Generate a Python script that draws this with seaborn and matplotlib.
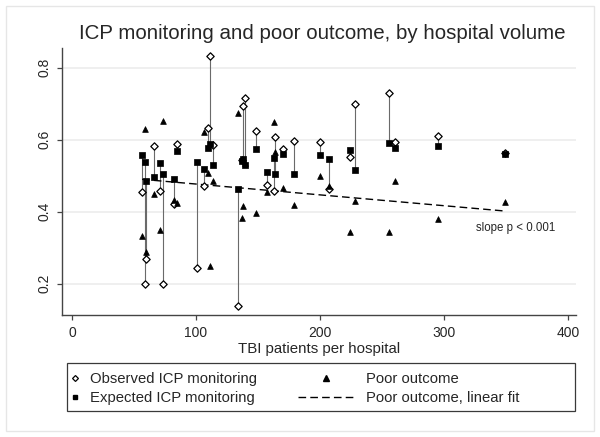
import numpy as np
import pandas as pd
import matplotlib
matplotlib.use("Agg")
import matplotlib.pyplot as plt
from matplotlib.patches import Rectangle
from matplotlib.lines import Line2D
import seaborn as sns

# ---- Data ----

# TBI patients per hospital
volume = [56.5, 58.9, 59.3, 66.4, 71.3, 73.6, 82.5, 84.6, 101.2, 106.8,
          110.0, 111.3, 113.4, 133.6, 137.3, 138.2, 139.5, 148.3, 157.1, 163.0,
          164.1, 170.2, 179.0, 200.0, 207.3, 224.2, 228.2, 255.4, 260.2, 294.9,
          349.0]
observed_icp = [0.455, 0.200, 0.269, 0.583, 0.457, 0.200, 0.422, 0.589, 0.243, 0.472,
                0.634, 0.833, 0.586, 0.139, 0.543, 0.693, 0.716, 0.625, 0.474, 0.457,
                0.608, 0.575, 0.596, 0.593, 0.462, 0.551, 0.699, 0.729, 0.594, 0.610,
                0.563]
expected_icp = [0.557, 0.537, 0.484, 0.496, 0.534, 0.504, 0.492, 0.568, 0.539, 0.518,
                0.576, 0.589, 0.531, 0.463, 0.540, 0.546, 0.529, 0.573, 0.510, 0.548,
                0.506, 0.561, 0.505, 0.557, 0.546, 0.571, 0.517, 0.590, 0.576, 0.584,
                0.559]
poor_outcome = [0.332, 0.630, 0.287, 0.449, 0.348, 0.651, 0.433, 0.425, np.nan, 0.622,
                0.507, 0.250, 0.484, 0.675, 0.383, 0.416, 0.535, 0.397, 0.455, 0.648,
                0.565, 0.465, 0.418, 0.499, 0.472, 0.344, 0.430, 0.344, 0.484, 0.379,
                0.427]

# poor outcome linear fit
fit_intercept = 0.507
fit_slope = -0.000301

x_ticks = [0, 100, 200, 300, 400]
y_ticks = [0.2, 0.4, 0.6, 0.8]

df = pd.DataFrame({"volume": volume, "observed": observed_icp,
                   "expected": expected_icp, "poor": poor_outcome})
df["fit"] = fit_intercept + fit_slope * df["volume"]

# ---- Plot ----
sns.set_theme(style="white")
plt.rcParams["font.family"] = ["Liberation Sans", "DejaVu Sans"]

fig = plt.figure(figsize=(6, 4.37), dpi=100)
ax = fig.add_axes([0.1033, 0.2792, 0.8567, 0.611])

ax.yaxis.grid(True, color="#ebebeb", lw=1.1)
ax.set_axisbelow(True)

# observed vs expected spikes
ax.vlines(df["volume"], df["expected"], df["observed"], color="#6a6a6a", lw=0.8, zorder=2)

sns.lineplot(data=df, x="volume", y="fit", color="black", lw=1.0,
             linestyle=(0, (5.5, 3)), ax=ax, zorder=2)
sns.scatterplot(data=df, x="volume", y="observed", marker="D", s=14, color="white",
                edgecolor="black", linewidth=0.9, ax=ax, zorder=3)
sns.scatterplot(data=df, x="volume", y="expected", marker="s", s=13, color="black",
                edgecolor="black", linewidth=0.5, ax=ax, zorder=4)
sns.scatterplot(data=df, x="volume", y="poor", marker="^", s=17, color="black",
                edgecolor="black", linewidth=0.5, ax=ax, zorder=4)

ax.text(325.5, 0.354, "slope p < 0.001", fontsize=8.3, va="center")

ax.set_xlim(-8.1, 406.5)
ax.set_ylim(0.113, 0.855)
ax.set_xticks(x_ticks)
ax.set_yticks(y_ticks)
ax.set_xlabel("TBI patients per hospital", fontsize=10.8, labelpad=2)
ax.set_ylabel("")

for side in ["top", "right"]:
    ax.spines[side].set_visible(False)
for side in ["left", "bottom"]:
    ax.spines[side].set_color("#444444")
    ax.spines[side].set_linewidth(1.0)
ax.tick_params(direction="out", length=3.6, width=0.9, color="#444444",
               labelsize=10, pad=4, left=True, bottom=True)
for lab in ax.get_yticklabels():
    lab.set_rotation(90)
    lab.set_va("center")

fig.text(322 / 600, 1 - 33.5 / 437, "ICP monitoring and poor outcome, by hospital volume",
         ha="center", va="center", fontsize=14.8)

# legend: two columns inside one frame
h_obs = Line2D([], [], ls="none", marker="D", ms=3.0, mfc="white", mec="black", mew=0.9)
h_exp = Line2D([], [], ls="none", marker="s", ms=3.0, color="black")
h_poor = Line2D([], [], ls="none", marker="^", ms=4.0, color="black")
h_fit = Line2D([], [], color="black", lw=1.0, ls=(0, (5.5, 3)))

leg_y = 1 - 388.35 / 437
fig.legend([h_obs, h_exp], ["Observed ICP monitoring", "Expected ICP monitoring"],
           loc="center left", bbox_to_anchor=(67.6 / 600, leg_y), frameon=False,
           fontsize=10.7, handlelength=1, handletextpad=0.5, labelspacing=0.32,
           borderpad=0, borderaxespad=0)
fig.legend([h_poor, h_fit], ["Poor outcome", "Poor outcome, linear fit"],
           loc="center left", bbox_to_anchor=(298 / 600, leg_y), frameon=False,
           fontsize=10.7, handlelength=3.77, handletextpad=0.8, labelspacing=0.32,
           borderpad=0, borderaxespad=0)
fig.patches.append(Rectangle((67.3 / 600, 1 - 411.3 / 437), 507.7 / 600, 48.3 / 437,
                             transform=fig.transFigure, fill=False,
                             edgecolor="#3a3a3a", lw=0.9))

# faint graph region outline
fig.patches.append(Rectangle((6 / 600, 6 / 437), 588 / 600, 425 / 437,
                             transform=fig.transFigure, fill=False,
                             edgecolor="#e6e6e6", lw=1.0))

fig.savefig("out.png", dpi=100)
